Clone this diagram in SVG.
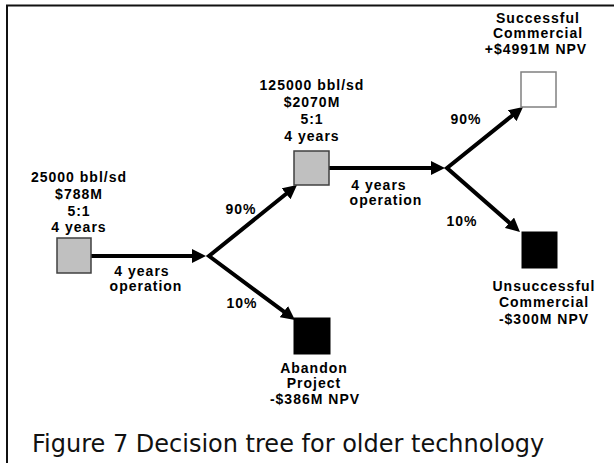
<svg xmlns="http://www.w3.org/2000/svg" width="614" height="463" viewBox="0 0 614 463">
<style>
.lbl{font-family:"Liberation Sans",Arial,sans-serif;font-weight:bold;font-size:14px;letter-spacing:1px;text-anchor:middle;fill:#000}
.cap{font-family:"DejaVu Sans",Verdana,sans-serif;font-size:24px;fill:#111}
.conn{fill:none;stroke:#000;stroke-width:4;stroke-linejoin:miter;stroke-miterlimit:10}
.gray{fill:#c0c0c0;stroke:#404040;stroke-width:1.5}
.white{fill:#fff;stroke:#808080;stroke-width:1.5}
.black{fill:#000;stroke:#000;stroke-width:1}
</style>
<defs>
<marker id="ah" viewBox="0 0 14 14" markerWidth="14" markerHeight="14" markerUnits="userSpaceOnUse" refX="1" refY="7" orient="auto-start-reverse">
<path d="M0,0 L14,7 L0,14 z" fill="#000"/>
</marker>
</defs>
<rect width="614" height="463" fill="#fff"/>
<path d="M7,463 V5.5 H614" fill="none" stroke="#111" stroke-width="2"/>

<g id="connectors">
<path class="conn" d="M91,256 H193" marker-end="url(#ah)"/>
<path class="conn" d="M286.9,193.2 L209,256 L284.6,312.2" marker-start="url(#ah)" marker-end="url(#ah)"/>
<path class="conn" d="M329,168 H432" marker-end="url(#ah)"/>
<path class="conn" d="M512.9,115.1 L447,168 L510.2,223.4" marker-start="url(#ah)" marker-end="url(#ah)"/>
<text class="lbl" x="142" y="276">4 years</text>
<text class="lbl" x="146" y="291">operation</text>
<text class="lbl" x="379" y="190">4 years</text>
<text class="lbl" x="386" y="205">operation</text>
<text class="lbl" x="241" y="214">90%</text>
<text class="lbl" x="242" y="308">10%</text>
<text class="lbl" x="466" y="124">90%</text>
<text class="lbl" x="462" y="226">10%</text>
</g>

<g id="node-start">
<text class="lbl" x="79" y="182">25000 bbl/sd</text>
<text class="lbl" x="79" y="199">$788M</text>
<text class="lbl" x="79" y="216">5:1</text>
<text class="lbl" x="79" y="232">4 years</text>
<rect class="gray" x="57" y="238" width="34" height="35"/>
</g>

<g id="node-stage2">
<text class="lbl" x="312" y="90">125000 bbl/sd</text>
<text class="lbl" x="312" y="107">$2070M</text>
<text class="lbl" x="312" y="124">5:1</text>
<text class="lbl" x="312" y="141">4 years</text>
<rect class="gray" x="294" y="151" width="35" height="34"/>
</g>

<g id="node-success">
<text class="lbl" x="538" y="23">Successful</text>
<text class="lbl" x="538" y="38">Commercial</text>
<text class="lbl" x="536" y="54">+$4991M NPV</text>
<rect class="white" x="521" y="72" width="35" height="35"/>
</g>

<g id="node-unsuccess">
<rect class="black" x="522" y="232" width="35" height="36"/>
<text class="lbl" x="544" y="291">Unsuccessful</text>
<text class="lbl" x="544" y="307">Commercial</text>
<text class="lbl" x="544" y="324">-$300M NPV</text>
</g>

<g id="node-abandon">
<rect class="black" x="294" y="318" width="36" height="36"/>
<text class="lbl" x="314" y="373">Abandon</text>
<text class="lbl" x="314" y="388">Project</text>
<text class="lbl" x="315" y="404">-$386M NPV</text>
</g>

<text class="cap" x="32" y="452">Figure 7 Decision tree for older technology</text>
</svg>
